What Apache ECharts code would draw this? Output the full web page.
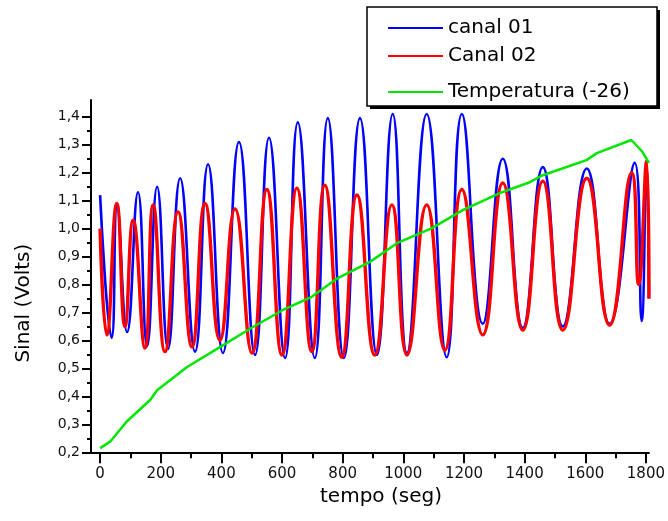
<!DOCTYPE html>
<html><head><meta charset="utf-8">
<script src="https://cdn.jsdelivr.net/npm/echarts@6/dist/echarts.min.js"></script>
<style>html,body{margin:0;padding:0;background:#fff}#chart{width:668px;height:521px}</style>
</head><body><div id="chart"></div>
<script>
const seriesNames = ['canal 01', 'Canal 02', 'Temperatura (-26)'];

const tempoCanal01 = [0, 38, 56, 89, 125, 155, 188, 224, 264, 313, 356, 405, 458, 511, 557, 610, 652, 708, 751, 804, 857, 913, 965, 1012, 1077, 1143, 1193, 1262, 1328, 1394, 1460, 1526, 1605, 1680, 1763, 1786, 1802, 1810];
const canal01 = [1.12, 0.61, 1.08, 0.63, 1.13, 0.58, 1.15, 0.57, 1.18, 0.56, 1.23, 0.555, 1.31, 0.548, 1.325, 0.537, 1.38, 0.537, 1.395, 0.537, 1.395, 0.548, 1.41, 0.555, 1.41, 0.54, 1.41, 0.66, 1.25, 0.645, 1.22, 0.65, 1.215, 0.66, 1.235, 0.67, 1.24, 0.75];

const tempoCanal02 = [0, 22, 55, 82, 109, 148, 175, 214, 257, 303, 346, 395, 445, 501, 550, 600, 649, 698, 741, 797, 847, 906, 962, 1012, 1077, 1137, 1193, 1262, 1328, 1394, 1460, 1526, 1605, 1680, 1753, 1776, 1802, 1810];
const canal02 = [1.0, 0.62, 1.09, 0.65, 1.03, 0.573, 1.085, 0.56, 1.06, 0.577, 1.09, 0.60, 1.07, 0.555, 1.14, 0.548, 1.145, 0.56, 1.155, 0.54, 1.12, 0.548, 1.085, 0.548, 1.085, 0.565, 1.14, 0.62, 1.163, 0.637, 1.17, 0.637, 1.18, 0.655, 1.20, 0.80, 1.24, 0.75];

const tempoTemp = [0, 33, 88, 165, 188, 287, 395, 504, 603, 698, 784, 890, 979, 1093, 1196, 1318, 1417, 1460, 1604, 1638, 1752, 1789, 1810];
const temperatura = [0.215, 0.238, 0.31, 0.387, 0.422, 0.505, 0.576, 0.648, 0.709, 0.756, 0.823, 0.881, 0.948, 1.001, 1.066, 1.127, 1.166, 1.191, 1.245, 1.27, 1.317, 1.274, 1.235];

const xTickValues = [0, 200, 400, 600, 800, 1000, 1200, 1400, 1600, 1800];
const xTickLabels = ['0', '200', '400', '600', '800', '1000', '1200', '1400', '1600', '1800'];
const xMinorTickValues = [100, 300, 500, 700, 900, 1100, 1300, 1500, 1700];
const yTickValues = [0.2, 0.3, 0.4, 0.5, 0.6, 0.7, 0.8, 0.9, 1.0, 1.1, 1.2, 1.3, 1.4];
const yTickLabels = ['0,2', '0,3', '0,4', '0,5', '0,6', '0,7', '0,8', '0,9', '1,0', '1,1', '1,2', '1,3', '1,4'];
const yMinorTickValues = [0.25, 0.35, 0.45, 0.55, 0.65, 0.75, 0.85, 0.95, 1.05, 1.15, 1.25, 1.35];

const FONT = "'DejaVu Sans', sans-serif";
const zip = (xs, ys) => xs.map((x, i) => [x, ys[i]]);
const lookup = (vals, labels) => v => {
  const i = vals.findIndex(t => Math.abs(t - v) < 1e-6);
  return i >= 0 ? labels[i] : '';
};

const chart = echarts.init(document.getElementById('chart'), null, {renderer: 'canvas'});
const xMin = -30, xMax = 1810, yMin = 0.2, yMax = 1.46;

const legendBase = {
  left: 388, itemWidth: 55, itemHeight: 2, icon: 'rect', padding: 0,
  selectedMode: false,
  textStyle: {fontFamily: FONT, fontSize: 20, color: '#000'}
};
const hiddenLine = {show: true, onZero: false, lineStyle: {color: '#000', opacity: 0}};

chart.setOption({
  backgroundColor: '#fff',
  animation: false,
  grid: {left: 91, right: 18.7, top: 100, bottom: 68.7, containLabel: false},
  graphic: [{
    type: 'rect', z: 3,
    shape: {x: 370, y: 10, width: 290, height: 99},
    style: {fill: '#000'}
  }, {
    type: 'rect', z: 3,
    shape: {x: 367, y: 7, width: 290, height: 99},
    style: {fill: '#fff', stroke: '#000', lineWidth: 1.5}
  }],
  legend: [
    Object.assign({}, legendBase, {data: [seriesNames[0]], top: 18}),
    Object.assign({}, legendBase, {data: [seriesNames[1]], top: 46}),
    Object.assign({}, legendBase, {data: [seriesNames[2]], top: 82})
  ],
  xAxis: [{
    type: 'value', min: xMin, max: xMax, position: 'bottom',
    name: 'tempo (seg)', nameLocation: 'middle', nameGap: 34,
    nameTextStyle: {fontFamily: FONT, fontSize: 20, color: '#000', padding: [0, 0, 0, 22]},
    axisLine: {show: true, onZero: false, lineStyle: {color: '#000', width: 2}},
    axisTick: {show: true, length: 11, customValues: xTickValues, lineStyle: {color: '#000', width: 2}},
    axisLabel: {customValues: xTickValues, margin: 14, fontFamily: FONT, fontSize: 15, color: '#111',
      formatter: lookup(xTickValues, xTickLabels)},
    splitLine: {show: false}
  }, {
    type: 'value', min: xMin, max: xMax, position: 'bottom', offset: 0,
    axisLine: hiddenLine,
    axisTick: {show: true, length: 6, customValues: xMinorTickValues, lineStyle: {color: '#000', width: 2}},
    axisLabel: {show: false},
    splitLine: {show: false}
  }],
  yAxis: [{
    type: 'value', min: yMin, max: yMax, position: 'left',
    name: 'Sinal (Volts)', nameLocation: 'middle', nameGap: 57, nameRotate: 90,
    nameTextStyle: {fontFamily: FONT, fontSize: 20, color: '#000', padding: [0, 54, 0, 0]},
    axisLine: {show: true, onZero: false, lineStyle: {color: '#000', width: 2}},
    axisTick: {show: true, length: 9, customValues: yTickValues, lineStyle: {color: '#000', width: 2}},
    axisLabel: {customValues: yTickValues, margin: 11, fontFamily: FONT, fontSize: 14, color: '#111',
      formatter: lookup(yTickValues, yTickLabels)},
    splitLine: {show: false}
  }, {
    type: 'value', min: yMin, max: yMax, position: 'left', offset: 0,
    axisLine: hiddenLine,
    axisTick: {show: true, length: 4, customValues: yMinorTickValues, lineStyle: {color: '#000', width: 2}},
    axisLabel: {show: false},
    splitLine: {show: false}
  }],
  series: [{
    name: seriesNames[0], type: 'line', data: zip(tempoCanal01, canal01),
    symbol: 'none', smooth: 0.5, z: 2,
    itemStyle: {color: '#0000ff'},
    lineStyle: {color: '#0000ff', width: 2.6}
  }, {
    name: seriesNames[1], type: 'line', data: zip(tempoCanal02, canal02),
    symbol: 'none', smooth: 0.5, z: 2,
    itemStyle: {color: '#ff0000'},
    lineStyle: {color: '#ff0000', width: 3.4}
  }, {
    name: seriesNames[2], type: 'line', data: zip(tempoTemp, temperatura),
    symbol: 'none', smooth: false, z: 2,
    itemStyle: {color: '#00e600'},
    lineStyle: {color: '#00e600', width: 2.5}
  }]
});
</script></body></html>
